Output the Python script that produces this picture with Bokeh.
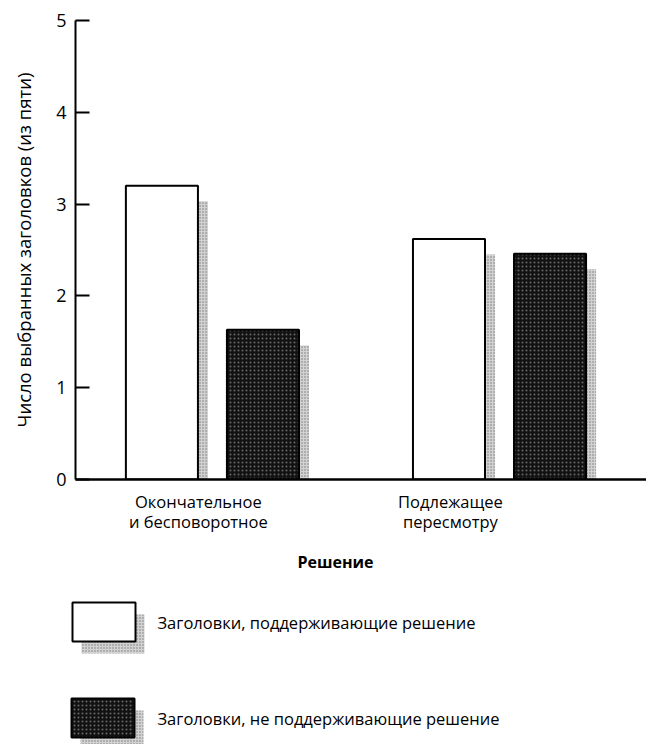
from bokeh.plotting import figure
from bokeh.models import Range1d, FixedTicker, ColumnDataSource
from bokeh.embed import file_html
from bokeh.resources import INLINE
from bokeh.core.properties import value

# ---- data ----
categories = ["Окончательное\nи бесповоротное", "Подлежащее\nпересмотру"]
supporting = [3.2, 2.62]
not_supporting = [1.63, 2.46]
series_labels = ["Заголовки, поддерживающие решение",
                 "Заголовки, не поддерживающие решение"]
y_ticks = [0, 1, 2, 3, 4, 5]
y_title = "Число выбранных заголовков (из пяти)"
x_title = "Решение"

FONT = "Open Sans"
BAR_W = 0.251
OFF = 0.176
SH_DX = 0.035   # shadow shift (x units)
SH_DY = 0.17    # shadow shift (y units)

idx = list(range(len(categories)))
src = ColumnDataSource(dict(
    g=idx,
    xs=[i - OFF for i in idx],
    xn=[i + OFF for i in idx],
    xs_sh=[i - OFF + SH_DX for i in idx],
    xn_sh=[i + OFF + SH_DX for i in idx],
    sup=supporting,
    nsup=not_supporting,
    sup_sh=[v - SH_DY for v in supporting],
    nsup_sh=[v - SH_DY for v in not_supporting],
))

W = 646
H1 = 535
p = figure(width=W, height=H1, output_backend="svg", toolbar_location=None,
           x_range=Range1d(-0.477, 1.512), y_range=Range1d(0, 5),
           min_border_left=75, min_border_right=0, min_border_top=20,
           min_border_bottom=52)
p.outline_line_color = None
p.grid.visible = False
p.background_fill_color = "white"

shadow_kw = dict(fill_color="#d2d2d2", line_color=None, hatch_pattern="dot",
                 hatch_color="#777777", hatch_scale=3, hatch_weight=1)
p.vbar(x="xs_sh", top="sup_sh", width=BAR_W, bottom=0, source=src, **shadow_kw)
p.vbar(x="xn_sh", top="nsup_sh", width=BAR_W, bottom=0, source=src, **shadow_kw)
p.vbar(x="xs", top="sup", width=BAR_W, bottom=0, source=src,
       fill_color="white", line_color="black", line_width=2)
p.vbar(x="xn", top="nsup", width=BAR_W, bottom=0, source=src,
       fill_color="#121212", line_color="black", line_width=2,
       hatch_pattern="dot", hatch_color="#666666", hatch_scale=4, hatch_weight=1)

# y axis
ya = p.yaxis[0]
ya.ticker = FixedTicker(ticks=y_ticks)
ya.axis_line_width = 2
ya.major_tick_in = 14
ya.major_tick_out = 0
ya.major_tick_line_width = 2
ya.minor_tick_line_color = None
ya.major_label_standoff = 9
ya.major_label_text_font = FONT
ya.major_label_text_font_size = "18px"
ya.major_label_text_color = "black"
ya.axis_label = y_title
ya.axis_label_text_font = FONT
ya.axis_label_text_font_size = "18.5px"
ya.axis_label_text_font_style = "normal"
ya.axis_label_text_color = "black"
ya.axis_label_standoff = 17

# x axis
label_pos = [i + d for i, d in zip(idx, [-0.049, -0.171])]
xa = p.xaxis[0]
xa.ticker = FixedTicker(ticks=label_pos)
xa.major_label_overrides = {pos: lab for pos, lab in zip(label_pos, categories)}
xa.axis_line_width = 2.5
xa.major_tick_line_color = None
xa.minor_tick_line_color = None
xa.major_label_standoff = 4
xa.major_label_text_font = FONT
xa.major_label_text_font_size = "16.5px"
xa.major_label_text_line_height = 0.87
xa.major_label_text_color = "black"

# ---- legend / x title panel ----
H2 = 744 - H1
q = figure(width=W, height=H2, output_backend="svg", toolbar_location=None,
           x_range=Range1d(0, W), y_range=Range1d(H2, 0),
           min_border=0, x_axis_location=None, y_axis_location=None)
q.outline_line_color = None
q.grid.visible = False

q.text(x=[335], y=[26], text=[x_title], text_font=value(FONT),
       text_font_size="16px", text_font_style="bold", text_align="center",
       text_baseline="middle", text_color="black")

box_left = [72, 71]
box_top = [67, 163]
BW, BH, SDX, SDY = 63, 39, 9, 12
leg = ColumnDataSource(dict(
    l=box_left, r=[b + BW for b in box_left],
    t=box_top, b=[t + BH for t in box_top],
    ls=[b + SDX for b in box_left], rs=[b + BW + SDX for b in box_left],
    ts=[t + SDY for t in box_top], bs=[t + BH + SDY for t in box_top],
    fill=["white", "#121212"], hatch=["white", "#666666"],
    tx=[157, 157], ty=[t + BH / 2 for t in box_top],
    lab=series_labels,
))
q.quad(left="ls", right="rs", top="ts", bottom="bs", source=leg, **shadow_kw)
q.quad(left="l", right="r", top="t", bottom="b", source=leg,
       fill_color="fill", line_color="black", line_width=2,
       hatch_pattern="dot", hatch_color="hatch", hatch_scale=4, hatch_weight=1)
q.text(x="tx", y="ty", text="lab", source=leg, text_font=value(FONT),
       text_font_size="16.5px", text_baseline="middle", text_align="left",
       text_color="black")

open("out.html", "w").write(file_html([p, q], INLINE))
